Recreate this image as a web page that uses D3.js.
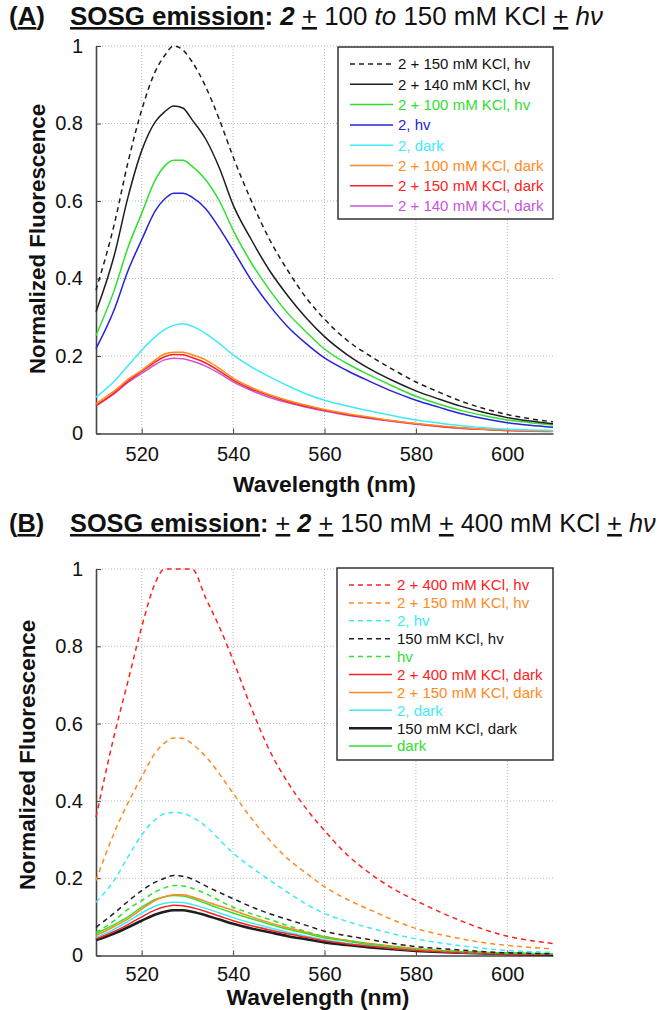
<!DOCTYPE html>
<html><head><meta charset="utf-8">
<script src="https://cdn.jsdelivr.net/npm/d3@7"></script>
<style>body{margin:0;background:#fff} svg{display:block} text{font-family:Arial,"Liberation Sans",sans-serif}</style>
</head><body><svg id="c" width="664" height="1010"></svg>
<script>
// ---------- data ----------
const wavelengths = [510,514,517,520,523,525,527,529,531,534,537,540,544,548,552,556,560,565,570,575,580,585,590,595,600,605,610];
const xTicks = [520,540,560,580,600];
const yTicks = [0,0.2,0.4,0.6,0.8,1];
const yTickLabels = ["0","0.2","0.4","0.6","0.8","1"];

// Panel A
const a150hv  = [.37,.54,.70,.835,.935,.975,1.0,.99,.96,.895,.81,.714,.60,.50,.42,.35,.295,.24,.2,.165,.133,.107,.083,.064,.049,.038,.03];
const a140hv  = [.314,.46,.61,.73,.805,.83,.845,.84,.81,.76,.685,.59,.50,.42,.355,.298,.25,.203,.166,.136,.11,.089,.07,.054,.041,.032,.025];
const a100hv  = [.253,.37,.48,.568,.655,.69,.705,.705,.69,.655,.60,.525,.44,.37,.31,.262,.218,.18,.15,.122,.096,.076,.059,.046,.035,.028,.022];
const a2hv    = [.219,.32,.42,.50,.575,.605,.62,.62,.61,.58,.53,.473,.395,.33,.275,.232,.195,.162,.134,.108,.086,.068,.051,.038,.028,.021,.016];
const a2dark  = [.094,.135,.175,.215,.25,.268,.279,.283,.277,.258,.232,.203,.172,.146,.123,.102,.086,.071,.058,.046,.035,.027,.02,.015,.011,.009,.008];
const a100dark= [.077,.11,.14,.163,.19,.205,.21,.21,.203,.19,.168,.143,.119,.10,.085,.073,.062,.051,.042,.033,.026,.02,.015,.011,.009,.007,.006];
const a150dark= [.072,.105,.135,.16,.185,.198,.204,.203,.196,.182,.161,.138,.115,.097,.082,.07,.06,.049,.04,.032,.025,.019,.014,.011,.008,.007,.006];
const a140dark= [.072,.103,.132,.155,.178,.19,.194,.193,.187,.174,.155,.133,.111,.093,.079,.068,.058,.047,.039,.031,.024,.018,.013,.01,.008,.006,.005];
const legendA = ["2 + 150 mM KCl, hv","2 + 140 mM KCl, hv","2 + 100 mM KCl, hv","2, hv","2, dark","2 + 100 mM KCl, dark","2 + 150 mM KCl, dark","2 + 140 mM KCl, dark"];

// Panel B
const b400hv  = [.358,.57,.71,.85,.965,1.0,1.0,1.0,1.0,.925,.85,.764,.64,.53,.447,.38,.323,.26,.212,.173,.142,.114,.089,.067,.05,.039,.031];
const b150hv  = [.194,.318,.395,.462,.525,.55,.563,.562,.548,.515,.47,.42,.355,.298,.25,.213,.178,.145,.118,.092,.07,.055,.043,.033,.026,.021,.017];
const b2hv    = [.138,.195,.255,.312,.352,.367,.37,.368,.358,.335,.30,.265,.228,.195,.163,.133,.109,.088,.071,.056,.043,.033,.025,.018,.013,.01,.008];
const bKClhv  = [.073,.11,.14,.168,.19,.20,.207,.205,.198,.18,.163,.147,.126,.108,.093,.078,.063,.051,.041,.031,.023,.018,.014,.01,.007,.006,.005];
const bhv     = [.06,.09,.12,.142,.165,.175,.181,.18,.174,.16,.142,.125,.108,.093,.077,.062,.049,.039,.03,.023,.017,.013,.01,.008,.006,.005,.004];
const b400dark= [.043,.062,.08,.10,.118,.126,.13,.129,.124,.114,.102,.09,.077,.066,.056,.047,.038,.03,.024,.018,.013,.01,.008,.006,.004,.003,.003];
const b150dark= [.052,.075,.095,.12,.143,.152,.157,.157,.152,.14,.128,.117,.10,.085,.072,.06,.049,.039,.031,.024,.018,.013,.01,.007,.005,.004,.003];
const b2dark  = [.047,.068,.088,.11,.128,.135,.138,.137,.132,.122,.11,.098,.084,.072,.06,.05,.041,.032,.025,.019,.014,.011,.008,.006,.005,.004,.003];
const bKCldark= [.04,.057,.073,.09,.106,.113,.117,.117,.113,.104,.093,.082,.07,.06,.05,.042,.034,.027,.021,.016,.012,.009,.007,.005,.004,.003,.002];
const bdark   = [.057,.08,.10,.125,.145,.152,.155,.154,.148,.135,.122,.11,.095,.081,.068,.057,.046,.037,.028,.022,.017,.013,.01,.008,.006,.005,.004];
const legendB = ["2 + 400 mM KCl, hv","2 + 150 mM KCl, hv","2, hv","150 mM KCl, hv","hv","2 + 400 mM KCl, dark","2 + 150 mM KCl, dark","2, dark","150 mM KCl, dark","dark"];

// ---------- styles ----------
const C = {black:"#1e1e1e", green:"#2fe02f", blue:"#2424d8", cyan:"#3eeafa", orange:"#ff8a1e", red:"#ff2020", magenta:"#c755dc"};
const seriesA = [
  {v:a150hv, c:C.black, d:true}, {v:a140hv, c:C.black}, {v:a100hv, c:C.green}, {v:a2hv, c:C.blue},
  {v:a2dark, c:C.cyan}, {v:a100dark, c:C.orange}, {v:a150dark, c:C.red}, {v:a140dark, c:C.magenta}
];
const seriesB = [
  {v:b400hv, c:C.red, d:true}, {v:b150hv, c:C.orange, d:true}, {v:b2hv, c:C.cyan, d:true}, {v:bKClhv, c:C.black, d:true}, {v:bhv, c:C.green, d:true},
  {v:b400dark, c:C.red}, {v:b150dark, c:C.orange}, {v:b2dark, c:C.cyan}, {v:bKCldark, c:C.black, w:2.6}, {v:bdark, c:C.green}
];

const svg = d3.select("#c");

function fit(sel, target){
  const w = sel.node().getBBox().width;
  const fs = parseFloat(sel.attr("font-size"));
  sel.attr("font-size", fs*target/w);
}

function title(y, parts, letter, endX){
  const t1 = svg.append("text").attr("x",9).attr("y",y).attr("font-size",26).attr("font-weight","bold").attr("fill","#111");
  t1.append("tspan").text("(");
  t1.append("tspan").attr("text-decoration","underline").text(letter);
  t1.append("tspan").text(")");
  const t = svg.append("text").attr("x",70).attr("y",y).attr("font-size",26).attr("fill","#111");
  parts.forEach(p=>{
    const s = t.append("tspan").text(p.t);
    if(p.b) s.attr("font-weight","bold");
    if(p.i) s.attr("font-style","italic");
    if(p.u) s.attr("text-decoration","underline");
  });
  fit(t, endX-70);
  t1.attr("font-size", t.attr("font-size"));
}

function panel(cfg){
  const x = d3.scaleLinear().domain([510,610]).range([cfg.left,cfg.right]);
  const y = d3.scaleLinear().domain([0,1]).range([cfg.bottom,cfg.top]);
  const g = svg.append("g");
  g.selectAll(".gx").data(xTicks).join("line")
    .attr("x1",d=>x(d)).attr("x2",d=>x(d)).attr("y1",cfg.top).attr("y2",cfg.bottom)
    .attr("stroke","#b8b8b8").attr("stroke-dasharray","1,2");
  g.selectAll(".gy").data(yTicks.slice(1)).join("line")
    .attr("x1",cfg.left).attr("x2",cfg.right).attr("y1",d=>y(d)).attr("y2",d=>y(d))
    .attr("stroke","#b8b8b8").attr("stroke-dasharray","1,2");
  const ax = g.append("g").attr("transform",`translate(0,${cfg.bottom})`)
    .call(d3.axisBottom(x).tickValues(xTicks).tickFormat(d3.format("d")).tickSizeInner(-5).tickSizeOuter(0).tickPadding(cfg.xpad));
  const ay = g.append("g").attr("transform",`translate(${cfg.left},0)`)
    .call(d3.axisLeft(y).tickValues(yTicks).tickFormat((d,i)=>yTickLabels[i]).tickSizeInner(-5).tickSizeOuter(0).tickPadding(13));
  [ax,ay].forEach(a=>{
    a.selectAll("text").attr("font-size",20).attr("fill","#111").attr("font-family","Arial, Liberation Sans, sans-serif");
    a.select(".domain").attr("stroke","#444").attr("stroke-width",1.6);
    a.selectAll(".tick line").attr("stroke","#444");
  });
  const line = d3.line().x((d,i)=>x(wavelengths[i])).y(d=>y(d)).curve(d3.curveMonotoneX);
  cfg.series.slice().reverse().forEach(s=>{
    g.append("path").attr("d",line(s.v)).attr("fill","none").attr("stroke",s.c)
      .attr("stroke-width",s.w||1.5).attr("stroke-dasharray",s.d?"5,4":null);
  });
  svg.append("text").attr("x",cfg.xtx).attr("y",cfg.xty).attr("text-anchor","middle")
    .attr("font-size",22.8).attr("font-weight","bold").attr("fill","#111").text("Wavelength (nm)");
  svg.append("text").attr("transform",`translate(${cfg.ytx},${cfg.yty}) rotate(-90)`).attr("text-anchor","middle")
    .attr("font-size",22.3).attr("font-weight","bold").attr("fill","#111").text("Normalized Fluorescence");
  const L = cfg.legend;
  svg.append("rect").attr("x",L.x0).attr("y",L.y0).attr("width",L.x1-L.x0).attr("height",L.y1-L.y0)
    .attr("fill","#fff").attr("stroke","#333").attr("stroke-width",1.5);
  cfg.labels.forEach((lab,i)=>{
    const s = cfg.series[i];
    const yy = L.r0 + i*L.dr;
    svg.append("line").attr("x1",L.x0+12).attr("x2",L.x0+55).attr("y1",yy).attr("y2",yy)
      .attr("stroke",s.c).attr("stroke-width",s.w||1.5).attr("stroke-dasharray",s.d?"5,4":null);
    svg.append("text").attr("x",L.x0+60).attr("y",yy+5.3).attr("font-size",15).attr("fill",s.c===C.black?"#111":s.c).text(lab);
  });
}

title(25, [
  {t:"SOSG emission",b:true,u:true},{t:": ",b:true},{t:"2",b:true,i:true},{t:" "},{t:"+",u:true},
  {t:" 100 "},{t:"to",i:true},{t:" 150 mM KCl "},{t:"+",u:true},{t:" "},{t:"hν",i:true}
], "A", 603);

title(532, [
  {t:"SOSG emission",b:true,u:true},{t:": ",b:true},{t:"+",u:true},{t:" "},{t:"2",b:true,i:true},{t:" "},{t:"+",u:true},
  {t:" 150 mM "},{t:"+",u:true},{t:" 400 mM KCl "},{t:"+",u:true},{t:" "},{t:"hν",i:true}
], "B", 656);

panel({left:96,right:553,top:46,bottom:433.5,xpad:13,series:seriesA,labels:legendA,
  xtx:324.5,xty:492,ytx:45,yty:239,
  legend:{x0:338,x1:553,y0:47,y1:219,r0:64,dr:20.3}});
panel({left:96,right:553,top:569,bottom:955.5,xpad:11,series:seriesB,labels:legendB,
  xtx:318,xty:1005,ytx:35,yty:755,
  legend:{x0:337,x1:553,y0:568,y1:760,r0:585,dr:17.9}});
</script></body></html>
